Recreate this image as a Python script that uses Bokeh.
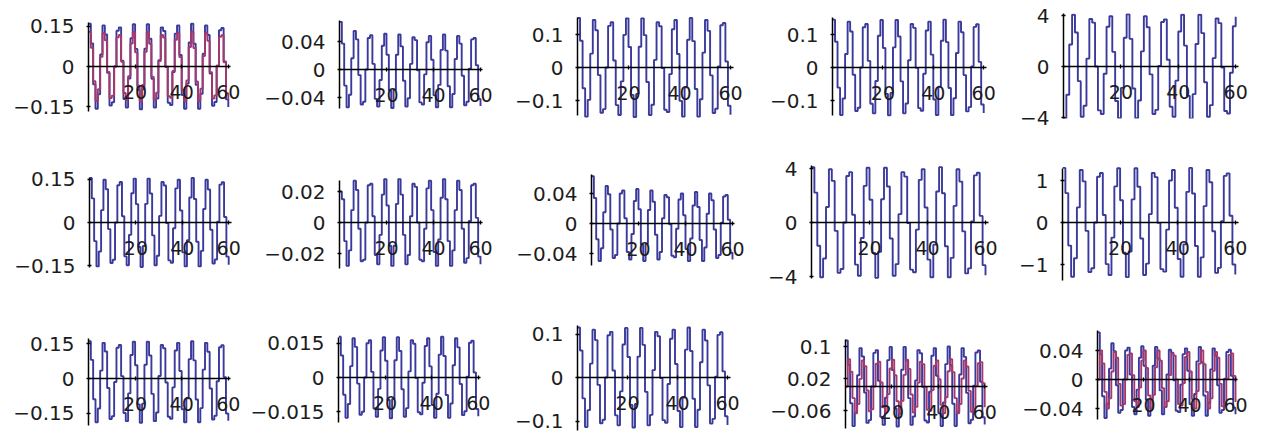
from bokeh.plotting import figure
from bokeh.layouts import row, column
from bokeh.models import FixedTicker, LinearAxis
from bokeh.embed import file_html
from bokeh.resources import INLINE

# ---------------- data ----------------
t = list(range(61))
x_ticks = [20, 40, 60]

p1_blue = [0.160, 0.086, -0.067, -0.158, -0.104, 0.045, 0.154, 0.120, -0.024, -0.146,
           -0.134, 0.000, 0.134, 0.146, 0.022, -0.122, -0.154, -0.045, 0.106, 0.158,
           0.066, -0.088, -0.160, -0.085, 0.067, 0.158, 0.104, -0.046, -0.154, -0.120,
           0.024, 0.146, 0.133, -0.002, -0.136, -0.144, -0.021, 0.123, 0.154, 0.043,
           -0.107, -0.158, -0.064, 0.090, 0.160, 0.085, -0.069, -0.158, -0.102, 0.048,
           0.154, 0.118, -0.026, -0.147, -0.133, 0.003, 0.136, 0.144, 0.019, -0.123, -0.152]
p1_purple = [0.130, 0.070, -0.055, -0.129, -0.085, 0.036, 0.125, 0.098, -0.020, -0.118,
             -0.109, 0.000, 0.109, 0.118, 0.018, -0.099, -0.125, -0.036, 0.086, 0.129,
             0.053, -0.072, -0.130, -0.069, 0.055, 0.129, 0.085, -0.038, -0.125, -0.098,
             0.020, 0.118, 0.108, -0.001, -0.111, -0.117, -0.017, 0.100, 0.125, 0.035,
             -0.087, -0.129, -0.052, 0.073, 0.130, 0.069, -0.056, -0.129, -0.083, 0.039,
             0.125, 0.096, -0.021, -0.120, -0.108, 0.003, 0.111, 0.117, 0.016, -0.100, -0.124]
p2_blue = [0.068, 0.037, -0.023, -0.054, -0.036, 0.016, 0.055, 0.043, -0.008, -0.050,
           -0.046, 0.000, 0.045, 0.049, 0.008, -0.042, -0.053, -0.015, 0.034, 0.051,
           0.021, -0.030, -0.055, -0.029, 0.021, 0.050, 0.033, -0.016, -0.053, -0.041,
           0.008, 0.046, 0.042, -0.001, -0.047, -0.050, -0.007, 0.039, 0.048, 0.014,
           -0.037, -0.054, -0.022, 0.028, 0.050, 0.027, -0.024, -0.054, -0.035, 0.015,
           0.048, 0.037, -0.009, -0.051, -0.046, 0.001, 0.043, 0.045, 0.006, -0.042, -0.052]
p3_blue = [0.150, 0.081, -0.063, -0.149, -0.098, 0.042, 0.144, 0.113, -0.023, -0.137,
           -0.126, 0.000, 0.126, 0.137, 0.021, -0.114, -0.144, -0.042, 0.099, 0.149,
           0.062, -0.083, -0.150, -0.080, 0.063, 0.149, 0.098, -0.044, -0.144, -0.113,
           0.023, 0.137, 0.125, -0.002, -0.128, -0.135, -0.020, 0.116, 0.144, 0.041,
           -0.101, -0.149, -0.060, 0.084, 0.150, 0.080, -0.065, -0.149, -0.096, 0.045,
           0.144, 0.111, -0.024, -0.138, -0.125, 0.003, 0.128, 0.135, 0.018, -0.116, -0.143]
p4_blue = [0.145, 0.078, -0.061, -0.144, -0.094, 0.041, 0.139, 0.109, -0.022, -0.132,
           -0.122, 0.000, 0.122, 0.132, 0.020, -0.110, -0.139, -0.041, 0.096, 0.144,
           0.059, -0.080, -0.145, -0.077, 0.061, 0.144, 0.094, -0.042, -0.139, -0.109,
           0.022, 0.132, 0.120, -0.001, -0.123, -0.131, -0.019, 0.112, 0.139, 0.039,
           -0.097, -0.144, -0.058, 0.081, 0.145, 0.077, -0.062, -0.144, -0.093, 0.044,
           0.139, 0.107, -0.023, -0.133, -0.120, 0.003, 0.123, 0.131, 0.017, -0.112, -0.138]
p5_blue = [-4.10, -2.21, 1.72, 4.06, 2.67, -1.15, -3.94, -3.08, 0.62, 3.73,
           3.44, 0.00, -3.44, -3.73, -0.57, 3.12, 3.94, 1.15, -2.71, -4.06,
           -1.68, 2.26, 4.10, 2.17, -1.72, -4.06, -2.67, 1.19, 3.94, 3.08,
           -0.62, -3.73, -3.40, 0.04, 3.49, 3.69, 0.53, -3.16, -3.94, -1.11,
           2.75, 4.06, 1.64, -2.30, -4.10, -2.17, 1.76, 4.06, 2.62, -1.23,
           -3.94, -3.03, 0.66, 3.77, 3.40, -0.08, -3.49, -3.69, -0.49, 3.16, 3.90]
p6_blue = [0.155, 0.084, -0.065, -0.153, -0.101, 0.043, 0.149, 0.116, -0.023, -0.141,
           -0.130, 0.000, 0.130, 0.141, 0.022, -0.118, -0.149, -0.043, 0.102, 0.153,
           0.064, -0.085, -0.155, -0.082, 0.065, 0.153, 0.101, -0.045, -0.149, -0.116,
           0.023, 0.141, 0.129, -0.002, -0.132, -0.140, -0.020, 0.119, 0.149, 0.042,
           -0.104, -0.153, -0.062, 0.087, 0.155, 0.082, -0.067, -0.153, -0.099, 0.047,
           0.149, 0.115, -0.025, -0.143, -0.129, 0.003, 0.132, 0.140, 0.019, -0.119, -0.147]
p7_blue = [0.020, 0.015, -0.012, -0.028, -0.018, 0.008, 0.027, 0.021, -0.004, -0.025,
           -0.024, 0.000, 0.024, 0.025, 0.004, -0.021, -0.027, -0.008, 0.018, 0.028,
           0.011, -0.015, -0.028, -0.015, 0.012, 0.028, 0.018, -0.008, -0.027, -0.021,
           0.004, 0.025, 0.023, 0.000, -0.024, -0.025, -0.004, 0.022, 0.027, 0.008,
           -0.019, -0.028, -0.011, 0.016, 0.028, 0.015, -0.012, -0.028, -0.018, 0.008,
           0.027, 0.021, -0.004, -0.026, -0.023, 0.001, 0.024, 0.025, 0.003, -0.022, -0.027]
p8_blue = [0.063, 0.034, -0.021, -0.050, -0.033, 0.015, 0.050, 0.039, -0.008, -0.046,
           -0.042, 0.000, 0.040, 0.044, 0.007, -0.038, -0.048, -0.014, 0.030, 0.046,
           0.019, -0.028, -0.050, -0.027, 0.018, 0.044, 0.029, -0.015, -0.048, -0.038,
           0.007, 0.038, 0.035, -0.001, -0.043, -0.045, -0.007, 0.032, 0.040, 0.011,
           -0.034, -0.050, -0.020, 0.024, 0.042, 0.022, -0.022, -0.050, -0.032, 0.013,
           0.040, 0.031, -0.008, -0.046, -0.042, 0.001, 0.036, 0.038, 0.005, -0.039, -0.048]
p9_blue = [4.10, 2.21, -1.72, -4.06, -2.67, 1.15, 3.94, 3.08, -0.62, -3.73,
           -3.44, 0.00, 3.44, 3.73, 0.57, -3.12, -3.94, -1.15, 2.71, 4.06,
           1.68, -2.26, -4.10, -2.17, 1.72, 4.06, 2.67, -1.19, -3.94, -3.08,
           0.62, 3.73, 3.40, -0.04, -3.49, -3.69, -0.53, 3.16, 3.94, 1.11,
           -2.75, -4.06, -1.64, 2.30, 4.10, 2.17, -1.76, -4.06, -2.62, 1.23,
           3.94, 3.03, -0.66, -3.77, -3.40, 0.08, 3.49, 3.69, 0.49, -3.16, -3.90]
p10_blue = [1.30, 0.70, -0.55, -1.29, -0.85, 0.36, 1.25, 0.98, -0.20, -1.18,
            -1.09, 0.00, 1.09, 1.18, 0.18, -0.99, -1.25, -0.36, 0.86, 1.29,
            0.53, -0.72, -1.30, -0.69, 0.55, 1.29, 0.85, -0.38, -1.25, -0.98,
            0.20, 1.18, 1.08, -0.01, -1.11, -1.17, -0.17, 1.00, 1.25, 0.35,
            -0.87, -1.29, -0.52, 0.73, 1.30, 0.69, -0.56, -1.29, -0.83, 0.39,
            1.25, 0.96, -0.21, -1.20, -1.08, 0.03, 1.11, 1.17, 0.16, -1.00, -1.24]
p11_blue = [0.160, 0.080, -0.089, -0.188, -0.129, 0.034, 0.153, 0.116, -0.041, -0.174,
            -0.162, -0.015, 0.132, 0.144, 0.010, -0.148, -0.183, -0.064, 0.101, 0.158,
            0.057, -0.111, -0.190, -0.108, 0.059, 0.158, 0.099, -0.066, -0.183, -0.146,
            0.011, 0.144, 0.130, -0.017, -0.164, -0.173, -0.038, 0.120, 0.153, 0.032,
            -0.132, -0.188, -0.085, 0.083, 0.160, 0.078, -0.090, -0.188, -0.127, 0.038,
            0.153, 0.115, -0.043, -0.176, -0.160, -0.012, 0.134, 0.143, 0.006, -0.150, -0.181]
p12_blue = [0.0180, 0.0097, -0.0076, -0.0178, -0.0117, 0.0050, 0.0173, 0.0135, -0.0027, -0.0164,
            -0.0151, 0.0000, 0.0151, 0.0164, 0.0025, -0.0137, -0.0173, -0.0050, 0.0119, 0.0178,
            0.0074, -0.0099, -0.0180, -0.0095, 0.0076, 0.0178, 0.0117, -0.0052, -0.0173, -0.0135,
            0.0027, 0.0164, 0.0149, -0.0002, -0.0153, -0.0162, -0.0023, 0.0139, 0.0173, 0.0049,
            -0.0121, -0.0178, -0.0072, 0.0101, 0.0180, 0.0095, -0.0077, -0.0178, -0.0115, 0.0054,
            0.0173, 0.0133, -0.0029, -0.0166, -0.0149, 0.0004, 0.0153, 0.0162, 0.0022, -0.0139, -0.0171]
p13_blue = [0.115, 0.062, -0.048, -0.114, -0.075, 0.032, 0.110, 0.086, -0.017, -0.105,
            -0.097, 0.000, 0.097, 0.105, 0.016, -0.087, -0.110, -0.032, 0.076, 0.114,
            0.047, -0.063, -0.115, -0.061, 0.048, 0.114, 0.075, -0.033, -0.110, -0.086,
            0.017, 0.105, 0.095, -0.001, -0.098, -0.104, -0.015, 0.089, 0.110, 0.031,
            -0.077, -0.114, -0.046, 0.064, 0.115, 0.061, -0.049, -0.114, -0.074, 0.035,
            0.110, 0.085, -0.018, -0.106, -0.095, 0.002, 0.098, 0.104, 0.014, -0.089, -0.109]
p14_blue = [0.115, 0.054, -0.042, -0.099, -0.065, 0.028, 0.096, 0.075, -0.015, -0.091,
            -0.084, 0.000, 0.084, 0.091, 0.014, -0.076, -0.096, -0.028, 0.066, 0.099,
            0.041, -0.055, -0.100, -0.053, 0.042, 0.099, 0.065, -0.029, -0.096, -0.075,
            0.015, 0.091, 0.083, -0.001, -0.085, -0.090, -0.013, 0.077, 0.096, 0.027,
            -0.067, -0.099, -0.040, 0.056, 0.100, 0.053, -0.043, -0.099, -0.064, 0.030,
            0.096, 0.074, -0.016, -0.092, -0.083, 0.002, 0.085, 0.090, 0.012, -0.077, -0.095]
p14_purple = [0.000, 0.068, 0.037, -0.029, -0.067, -0.044, 0.019, 0.065, 0.051, -0.010,
              -0.062, -0.057, 0.000, 0.057, 0.062, 0.010, -0.052, -0.065, -0.019, 0.045,
              0.067, 0.028, -0.037, -0.068, -0.036, 0.029, 0.067, 0.044, -0.020, -0.065,
              -0.051, 0.010, 0.062, 0.056, -0.001, -0.058, -0.061, -0.009, 0.052, 0.065,
              0.018, -0.046, -0.067, -0.027, 0.038, 0.068, 0.036, -0.029, -0.067, -0.044,
              0.020, 0.065, 0.050, -0.011, -0.063, -0.056, 0.001, 0.058, 0.061, 0.008, -0.052]
p15_blue = [0.065, 0.035, -0.023, -0.053, -0.033, 0.015, 0.050, 0.039, -0.008, -0.046,
            -0.042, 0.000, 0.040, 0.044, 0.007, -0.038, -0.048, -0.014, 0.030, 0.046,
            0.019, -0.028, -0.050, -0.027, 0.019, 0.045, 0.029, -0.015, -0.048, -0.038,
            0.007, 0.041, 0.037, -0.001, -0.043, -0.045, -0.007, 0.035, 0.043, 0.012,
            -0.034, -0.050, -0.020, 0.025, 0.045, 0.024, -0.022, -0.050, -0.032, 0.014,
            0.043, 0.033, -0.008, -0.046, -0.042, 0.001, 0.038, 0.041, 0.005, -0.039, -0.048]
p15_purple = [0.000, 0.040, 0.022, -0.017, -0.040, -0.026, 0.011, 0.038, 0.030, -0.006,
              -0.036, -0.034, 0.000, 0.034, 0.036, 0.006, -0.030, -0.038, -0.011, 0.026,
              0.040, 0.016, -0.022, -0.040, -0.021, 0.017, 0.040, 0.026, -0.012, -0.038,
              -0.030, 0.006, 0.036, 0.033, 0.000, -0.034, -0.036, -0.005, 0.031, 0.038,
              0.011, -0.027, -0.040, -0.016, 0.022, 0.040, 0.021, -0.017, -0.040, -0.026,
              0.012, 0.038, 0.030, -0.006, -0.037, -0.033, 0.001, 0.034, 0.036, 0.005, -0.031]

yt_015 = [-0.15, 0, 0.15]
yl_015 = ["\u22120.15", "0", "0.15"]
yt_004 = [-0.04, 0, 0.04]
yl_004 = ["\u22120.04", "0", "0.04"]
yt_01 = [-0.1, 0, 0.1]
yl_01 = ["\u22120.1", "0", "0.1"]
yt_4 = [-4, 0, 4]
yl_4 = ["\u22124", "0", "4"]
yt_002 = [-0.02, 0, 0.02]
yl_002 = ["\u22120.02", "0", "0.02"]
yt_1 = [-1, 0, 1]
yl_1 = ["\u22121", "0", "1"]
yt_0015 = [-0.015, 0, 0.015]
yl_0015 = ["\u22120.015", "0", "0.015"]
yt_p14 = [-0.06, 0.02, 0.1]
yl_p14 = ["\u22120.06", "0.02", "0.1"]

BLUE = "#3a3a9c"
PURPLE = "#a3386c"

# ---------------- layout (pixels) ----------------
# row: (row top, row height, frame top, frame bottom)
# panel: (width, border left, px per x unit, zero px, px per y unit, axis top px, axis bottom px, ...)
rows_spec = [
    ((0, 150, 13, 118), [
        (250, 88, 2.33, 66, 267, 22, 111, yt_015, yl_015, [(p1_blue, BLUE), (p1_purple, PURPLE)]),
        (250, 89, 2.35, 69, 700, 20, 108, yt_004, yl_004, [(p2_blue, BLUE)]),
        (250, 77, 2.55, 67, 330, 17, 115, yt_01, yl_01, [(p3_blue, BLUE)]),
        (250, 82, 2.52, 67, 330, 17, 115, yt_01, yl_01, [(p4_blue, BLUE)]),
        (261, 63, 2.87, 66, 12.75, 13, 118, yt_4, yl_4, [(p5_blue, BLUE)]),
    ]),
    ((150, 168, 165, 280), [
        (250, 89, 2.32, 222, 287, 177, 267, yt_015, yl_015, [(p6_blue, BLUE)]),
        (250, 89, 2.35, 222, 1550, 180, 268, yt_002, yl_002, [(p7_blue, BLUE)]),
        (250, 91, 2.35, 223, 750, 174, 265, yt_004, yl_004, [(p8_blue, BLUE)]),
        (250, 61, 2.90, 222, 13.5, 165, 278, yt_4, yl_4, [(p9_blue, BLUE)]),
        (261, 62, 2.88, 222, 42, 168, 280, yt_1, yl_1, [(p10_blue, BLUE)]),
    ]),
    ((318, 114, 325, 430), [
        (246, 88, 2.33, 378, 233, 338, 425, yt_015, yl_015, [(p11_blue, BLUE)]),
        (254, 92, 2.33, 377, 2267, 337, 422, yt_0015, yl_0015, [(p12_blue, BLUE)]),
        (250, 77, 2.50, 377, 435, 325, 430, yt_01, yl_01, [(p13_blue, BLUE)]),
        (250, 95, 2.32, 386, 400, 339, 428, yt_p14, yl_p14, [(p14_blue, BLUE), (p14_purple, PURPLE)]),
        (261, 97, 2.30, 379, 725, 330, 419, yt_004, yl_004, [(p15_blue, BLUE), (p15_purple, PURPLE)]),
    ]),
]


def style_axis(ax, size):
    ax.axis_line_color = "black"
    ax.axis_line_width = 1.5
    ax.major_tick_line_color = "black"
    ax.major_tick_line_width = 1.3
    ax.major_tick_in = 2
    ax.major_tick_out = 2
    ax.minor_tick_line_color = None
    ax.major_label_text_font = "DejaVu Sans"
    ax.major_label_text_font_size = size
    ax.major_label_text_color = "#1c1c1c"


def make_panel(rowinfo, spec):
    T, H, Ft, Fb = rowinfo
    w, bl, k, Z, s, atop, abot, yt, yl, series = spec
    fw = int(round(60 * k + 14))
    br = w - bl - fw
    x_end = fw / k
    y_start = (Z - Fb) / s
    y_end = (Z - Ft) / s
    p = figure(width=w, height=H, x_range=(0, x_end), y_range=(y_start, y_end),
               output_backend="svg", toolbar_location=None, title=None,
               x_axis_location=None, y_axis_location=None,
               min_border_left=bl, min_border_right=br,
               min_border_top=Ft - T, min_border_bottom=T + H - Fb)
    p.outline_line_color = None
    p.background_fill_color = "white"
    p.border_fill_color = "white"
    p.xgrid.visible = False
    p.ygrid.visible = False
    xa = LinearAxis(fixed_location=0, bounds=(0, 61), ticker=FixedTicker(ticks=x_ticks))
    style_axis(xa, "19px")
    xa.major_label_standoff = 16
    ya = LinearAxis(ticker=FixedTicker(ticks=yt), bounds=((Z - abot) / s, (Z - atop) / s),
                    major_label_overrides=dict(zip(yt, yl)))
    style_axis(ya, "20px")
    ya.major_label_standoff = 12
    p.add_layout(xa, "below")
    p.add_layout(ya, "left")
    for ys, col in series:
        p.step(t, ys, mode="after", line_color=col, line_width=1.9)
    return p


rows = [row(*[make_panel(ri, s) for s in specs], spacing=0) for ri, specs in rows_spec]
layout = column(*rows, spacing=0)

open("out.html", "w").write(file_html(layout, INLINE))
